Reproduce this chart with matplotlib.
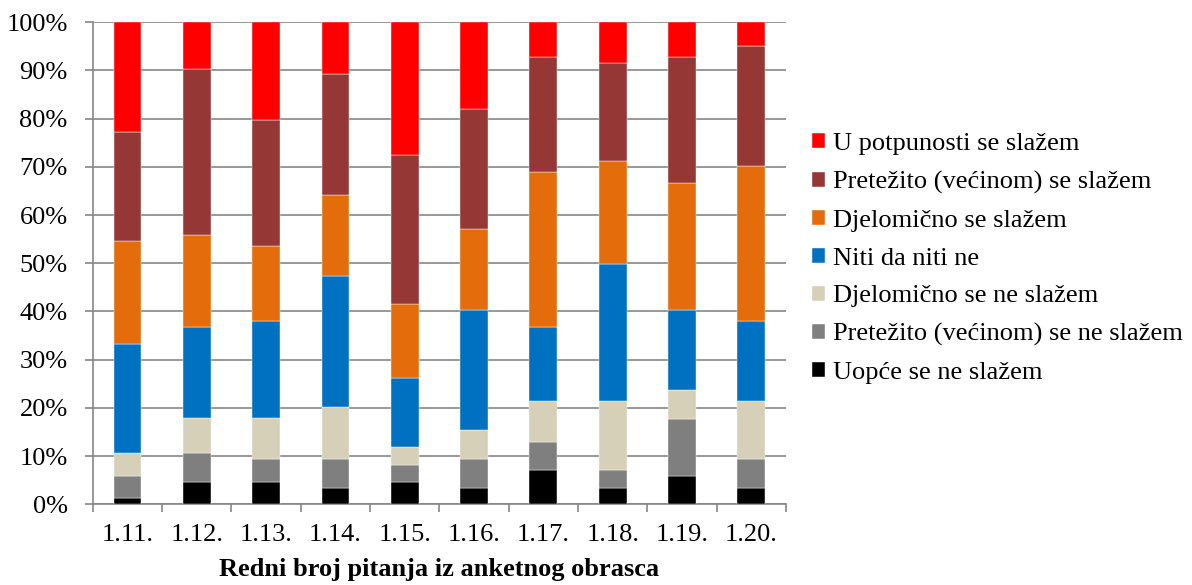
import matplotlib.pyplot as plt
import numpy as np

plt.rcParams['font.family'] = ['Liberation Serif', 'DejaVu Serif']

# Question numbers on the x axis
questions = ['1.11.', '1.12.', '1.13.', '1.14.', '1.15.',
             '1.16.', '1.17.', '1.18.', '1.19.', '1.20.']

# Shares in percent, from the bottom of each bar to the top
uopce_ne = [1.2, 4.7, 4.7, 3.4, 4.7, 3.4, 7.1, 3.4, 5.9, 3.4]
pretezito_ne = [4.7, 6.0, 4.7, 6.0, 3.5, 6.0, 5.8, 3.7, 11.8, 6.0]
djelomicno_ne = [4.8, 7.1, 8.4, 10.8, 3.6, 6.0, 8.5, 14.3, 6.0, 12.0]
niti = [22.6, 19.0, 20.2, 27.2, 14.3, 25.0, 15.4, 28.5, 16.7, 16.6]
djelomicno = [21.4, 19.1, 15.5, 16.8, 15.5, 16.7, 32.1, 21.4, 26.3, 32.1]
pretezito = [22.5, 34.4, 26.2, 25.0, 30.8, 24.9, 23.8, 20.2, 26.0, 25.0]
u_potpunosti = [22.8, 9.7, 20.3, 10.8, 27.6, 18.0, 7.3, 8.5, 7.3, 4.9]

series = [
    ('Uopće se ne slažem', uopce_ne, '#000000'),
    ('Pretežito (većinom) se ne slažem', pretezito_ne, '#7F7F7F'),
    ('Djelomično se ne slažem', djelomicno_ne, '#D5D0B7'),
    ('Niti da niti ne', niti, '#0070C0'),
    ('Djelomično se slažem', djelomicno, '#E46C0A'),
    ('Pretežito (većinom) se slažem', pretezito, '#953735'),
    ('U potpunosti se slažem', u_potpunosti, '#FF0000'),
]

fig = plt.figure(figsize=(11.92, 5.85), dpi=100)
ax = fig.add_axes([0.0778, 0.138, 0.5816, 0.8241])

x = np.arange(len(questions))
bottom = np.zeros(len(questions))
handles = []
for label, vals, color in series:
    vals = np.array(vals)
    h = ax.bar(x, vals, 0.4, bottom=bottom, color=color, label=label,
               edgecolor='white', linewidth=0.3, zorder=3)
    handles.append(h)
    bottom += vals

ax.set_xlim(-0.5, len(questions) - 0.5)
ax.set_ylim(0, 100)
ax.set_yticks(np.arange(0, 101, 10))
ax.set_yticklabels([f'{v}%' for v in range(0, 101, 10)])
ax.set_xticks(x)
ax.set_xticklabels(questions)
ax.set_xticks(np.arange(-0.5, len(questions), 1), minor=True)
ax.tick_params(axis='x', which='major', length=0, pad=14, labelsize=19)
ax.tick_params(axis='x', which='minor', length=6, color='#868686', width=1.2)
ax.tick_params(axis='y', length=6, color='#868686', width=1.2, labelsize=19, pad=12)

ax.grid(axis='y', color='#868686', linewidth=1.2, zorder=0)
for side in ['top', 'right']:
    ax.spines[side].set_visible(False)
for side in ['left', 'bottom']:
    ax.spines[side].set_color('#868686')
    ax.spines[side].set_linewidth(1.2)

ax.set_xlabel('Redni broj pitanja iz anketnog obrasca', fontsize=19,
              fontweight='bold', labelpad=9)

fig.legend(handles[::-1], [s[0] for s in series][::-1],
           loc='center left', bbox_to_anchor=(0.661, 0.558), frameon=False,
           fontsize=19, handlelength=0.5, handleheight=0.5, handletextpad=0.3,
           labelspacing=0.6)

fig.savefig('out.png', dpi=100)
